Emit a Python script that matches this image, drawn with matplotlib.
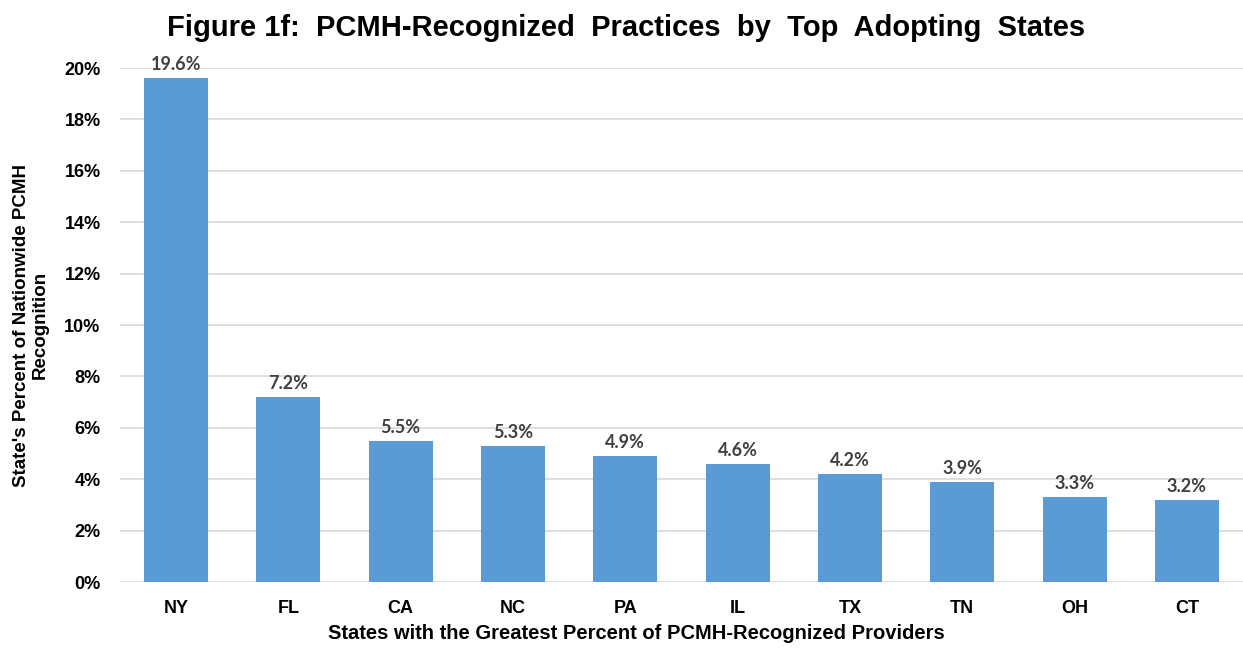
import matplotlib.pyplot as plt
import numpy as np

states = ["NY", "FL", "CA", "NC", "PA", "IL", "TX", "TN", "OH", "CT"]
percents = [19.6, 7.2, 5.5, 5.3, 4.9, 4.6, 4.2, 3.9, 3.3, 3.2]
yticks = [0, 2, 4, 6, 8, 10, 12, 14, 16, 18, 20]

plt.rcParams['font.family'] = ['Liberation Sans', 'DejaVu Sans']

fig = plt.figure(figsize=(12.43, 6.49), dpi=100)
ax = fig.add_axes([0.0965, 0.1032, 0.9035, 0.792])

x = np.arange(len(states))
ax.bar(x, percents, width=0.57, color="#5b9bd5", zorder=3)
for xi, v in zip(x, percents):
    ax.text(xi, v + 0.2, f"{v:.1f}%", ha="center", va="bottom", fontsize=13,
            fontweight="bold", color="#404040", family=["Lato", "DejaVu Sans"])

ax.set_xlim(-0.5, len(states) - 0.5)
ax.set_ylim(0, 20)
ax.set_yticks(yticks)
ax.set_yticklabels([f"{t}%" for t in yticks], fontsize=13, fontweight="bold")
ax.set_xticks(x)
ax.set_xticklabels(states, fontsize=13, fontweight="bold")
ax.tick_params(axis="x", length=0, pad=13)
ax.tick_params(axis="y", length=0, pad=14)
ax.grid(axis="y", color="#d9d9d9", linewidth=1.2, zorder=0)
for s in ax.spines.values():
    s.set_visible(False)

ax.set_xlabel("States with the Greatest Percent of PCMH-Recognized Providers",
              fontsize=14.5, fontweight="bold")
ax.xaxis.set_label_coords(0.46, -0.082)
ax.set_ylabel("State's Percent of Nationwide PCMH\nRecognition",
              fontsize=13.5, fontweight="bold")
ax.yaxis.set_label_coords(-0.063, 0.5)
fig.suptitle("Figure 1f:  PCMH-Recognized  Practices  by  Top  Adopting  States",
             x=0.504, y=0.978, fontsize=21, fontweight="bold")

fig.savefig("out.png", dpi=100)
